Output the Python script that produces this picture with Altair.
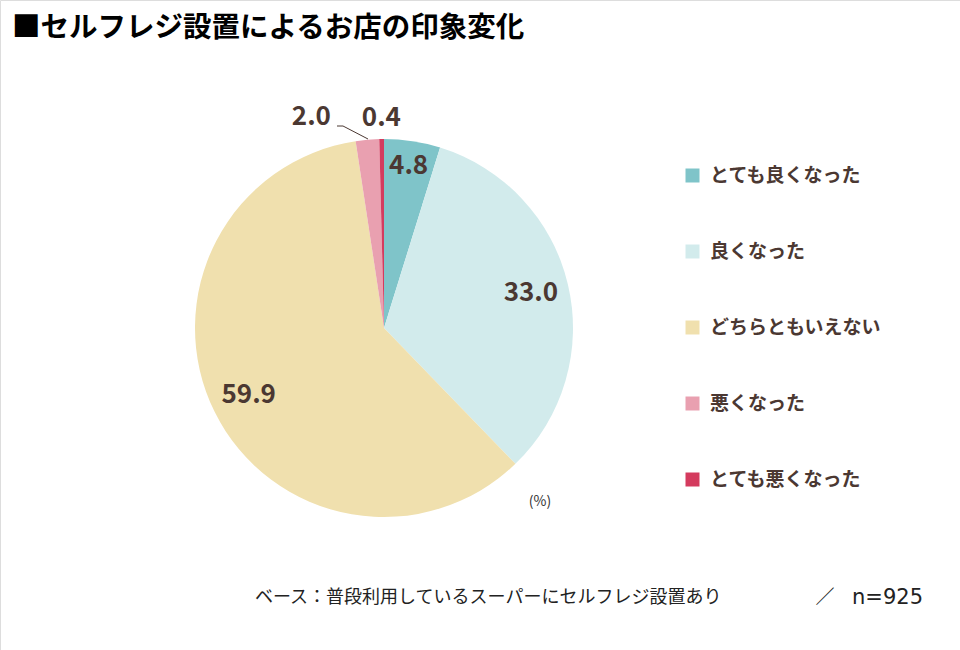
import altair as alt
import pandas as pd

categories = ["とても良くなった", "良くなった", "どちらともいえない", "悪くなった", "とても悪くなった"]
values = [4.8, 33.0, 59.9, 2.0, 0.4]
labels = ["4.8", "33.0", "59.9", "2.0", "0.4"]
colors = ["#7FC4C9", "#D2EBEC", "#F0E0AE", "#E9A0B0", "#D43B5E"]

title_text = "■セルフレジ設置によるお店の印象変化"
footer_base = "ベース：普段利用しているスーパーにセルフレジ設置あり"
footer_slash = "／"
footer_n = "n=925"
unit_text = "(%)"

FONT = "Noto Sans CJK JP"
TXT = "#4B3832"
CX, CY, R = 384, 328, 189

df = pd.DataFrame({"cat": categories, "value": values, "label": labels, "order": list(range(len(categories)))})

base = alt.Chart(df).encode(
    theta=alt.Theta("value:Q", stack=True),
    order=alt.Order("order:Q"),
    x=alt.value(CX),
    y=alt.value(CY),
)

pie = base.mark_arc(outerRadius=R).encode(
    color=alt.Color(
        "cat:N",
        scale=alt.Scale(domain=categories, range=colors),
        sort=categories,
        legend=alt.Legend(
            title=None,
            orient="none",
            legendX=683,
            legendY=166,
            symbolType="square",
            symbolSize=196,
            symbolStrokeWidth=0,
            symbolOpacity=1,
            labelFont=FONT,
            labelFontSize=19,
            labelFontWeight="bold",
            labelColor=TXT,
            labelOffset=8,
            rowPadding=56,
            labelLimit=300,
        ),
    )
)


def label_layer(show, radius, dx=0, dy=0):
    test = " || ".join([f"datum.label == '{s}'" for s in show])
    return base.mark_text(
        radius=radius, dx=dx, dy=dy, font=FONT, fontSize=26, fontWeight="bold", color=TXT
    ).encode(text=alt.condition(test, alt.Text("label:N"), alt.value("")))


lab_big = label_layer(["33.0", "59.9"], 151)
lab_48 = label_layer(["4.8"], 164)
lab_04 = label_layer(["0.4"], 210)
lab_20 = label_layer(["2.0"], 212, dx=-54)

leader = alt.Chart(pd.DataFrame({"k": [0]})).mark_rule(color=TXT, strokeWidth=1).encode(
    x=alt.value(337), y=alt.value(126), x2=alt.value(343), y2=alt.value(126)
)
leader2 = alt.Chart(pd.DataFrame({"k": [0]})).mark_rule(color=TXT, strokeWidth=1).encode(
    x=alt.value(343), y=alt.value(126), x2=alt.value(368), y2=alt.value(139)
)

title = alt.Chart(pd.DataFrame({"t": [title_text]})).mark_text(
    font=FONT, fontSize=28.5, fontWeight="bold", color="#000000", align="left", baseline="middle"
).encode(text="t:N", x=alt.value(12), y=alt.value(28))

footer1 = alt.Chart(pd.DataFrame({"t": [footer_base]})).mark_text(
    font=FONT, fontSize=18, color="#222222", align="left", baseline="middle"
).encode(text="t:N", x=alt.value(255), y=alt.value(598))

footer2 = alt.Chart(pd.DataFrame({"t": [footer_slash]})).mark_text(
    font=FONT, fontSize=19, color="#222222", align="center", baseline="middle"
).encode(text="t:N", x=alt.value(825), y=alt.value(598))

footer3 = alt.Chart(pd.DataFrame({"t": [footer_n]})).mark_text(
    font="DejaVu Sans", fontSize=21, color="#222222", align="right", baseline="middle"
).encode(text="t:N", x=alt.value(923), y=alt.value(598))

unit = alt.Chart(pd.DataFrame({"t": [unit_text]})).mark_text(
    font=FONT, fontSize=14, color="#333333", align="center", baseline="middle"
).encode(text="t:N", x=alt.value(540), y=alt.value(502))

chart = alt.layer(
    pie, lab_big, lab_48, lab_04, lab_20, leader, leader2, title, footer1, footer2, footer3, unit
).properties(
    width=960, height=650, padding=0, autosize=alt.AutoSizeParams(type="none")
).configure_view(stroke=None).configure(background="white")

chart.save("out.html", embed_options={"renderer": "svg", "actions": False})
